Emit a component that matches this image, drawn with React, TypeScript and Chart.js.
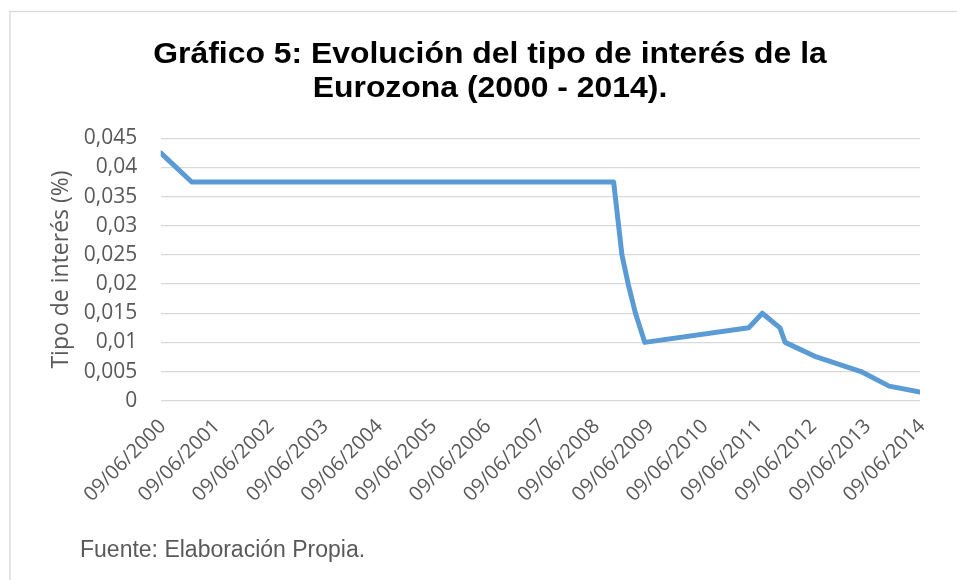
import React, { useEffect, useRef } from "react";
import { Chart, registerables } from "chart.js";

Chart.register(...registerables);

// Fechas de cambio del tipo (ISO) y valores del tipo de interés
const changeDates = [
  "2000-06-09",
  "2001-01-04",
  "2008-10-15",
  "2008-12-10",
  "2009-01-21",
  "2009-03-11",
  "2009-05-13",
  "2011-04-13",
  "2011-07-13",
  "2011-11-09",
  "2011-12-14",
  "2012-07-11",
  "2013-05-08",
  "2013-11-13",
  "2014-06-09",
];
const rates = [
  0.0425, 0.0375, 0.0375, 0.025, 0.02, 0.015, 0.01, 0.0125, 0.015, 0.0125,
  0.01, 0.0075, 0.005, 0.0025, 0.0015,
];

// Etiquetas del eje X
const tickLabels = [
  "09/06/2000",
  "09/06/2001",
  "09/06/2002",
  "09/06/2003",
  "09/06/2004",
  "09/06/2005",
  "09/06/2006",
  "09/06/2007",
  "09/06/2008",
  "09/06/2009",
  "09/06/2010",
  "09/06/2011",
  "09/06/2012",
  "09/06/2013",
  "09/06/2014",
];

const titleLines = [
  "Gráfico 5: Evolución del tipo de interés de la",
  "Eurozona (2000 - 2014).",
];
const yAxisTitle = "Tipo de interés (%)";
const footerText = "Fuente: Elaboración Propia.";

const parseDMY = (s: string) => {
  const [d, m, y] = s.split("/").map(Number);
  return Date.UTC(y, m - 1, d);
};
const parseISO = (s: string) => {
  const [y, m, d] = s.split("-").map(Number);
  return Date.UTC(y, m - 1, d);
};

const tickValues = tickLabels.map(parseDMY);

export default function App() {
  const ref = useRef<HTMLCanvasElement | null>(null);

  useEffect(() => {
    document.body.style.margin = "0";
    const canvas = ref.current;
    if (!canvas) return;

    const framePlugin = {
      id: "frame",
      beforeDraw(chart: any) {
        const ctx = chart.ctx;
        ctx.save();
        ctx.fillStyle = "#ffffff";
        ctx.fillRect(0, 0, chart.width, chart.height);
        ctx.strokeStyle = "#d9d9d9";
        ctx.lineWidth = 1.3;
        ctx.strokeRect(10, 11.5, chart.width + 20, chart.height + 20);
        ctx.restore();
      },
      afterDraw(chart: any) {
        const ctx = chart.ctx;
        ctx.save();
        // Title (slightly widened, as in the reference)
        ctx.fillStyle = "#000000";
        ctx.font = "bold 29px 'Liberation Sans', Arial, sans-serif";
        ctx.textAlign = "center";
        ctx.textBaseline = "alphabetic";
        const baselines = [63.3, 96.7];
        titleLines.forEach((line, i) => {
          ctx.save();
          ctx.translate(490, baselines[i]);
          ctx.scale(1.1, 1);
          ctx.fillText(line, 0, 0);
          ctx.restore();
        });
        // Footer
        ctx.fillStyle = "#595959";
        ctx.font = "23px 'Liberation Sans', Arial, sans-serif";
        ctx.textAlign = "left";
        ctx.fillText(footerText, 80, 557);
        ctx.restore();
      },
    };

    const chart = new Chart(canvas, {
      type: "line",
      data: {
        datasets: [
          {
            data: changeDates.map((d, i) => ({ x: parseISO(d), y: rates[i] })),
            borderColor: "#5B9BD5",
            borderWidth: 5,
            pointRadius: 0,
            tension: 0,
            borderJoinStyle: "round",
            borderCapStyle: "round",
            fill: false,
          },
        ],
      },
      plugins: [framePlugin],
      options: {
        responsive: false,
        animation: false,
        layout: { padding: { left: 0, right: 37, top: 138.3, bottom: 0 } },
        plugins: {
          legend: { display: false },
          tooltip: { enabled: false },
          title: { display: false },
        },
        scales: {
          x: {
            type: "linear",
            min: tickValues[0],
            max: tickValues[tickValues.length - 1],
            afterBuildTicks: (scale: any) => {
              scale.ticks = tickValues.map((v) => ({ value: v }));
            },
            afterFit: (scale: any) => {
              scale.height = 179.3;
              scale.paddingLeft = 0;
              scale.paddingRight = 0;
            },
            grid: { display: false, drawTicks: false },
            border: { display: false },
            ticks: {
              autoSkip: false,
              minRotation: 45,
              maxRotation: 45,
              padding: 14,
              labelOffset: 2,
              color: "#595959",
              font: { family: "'Open Sans', sans-serif", size: 20 },
              callback: (_v: any, i: number) => tickLabels[i],
            },
          },
          y: {
            min: 0,
            max: 0.045,
            afterFit: (scale: any) => {
              scale.width = 160.7;
            },
            grid: { color: "#d9d9d9", lineWidth: 1.3, drawTicks: false },
            border: { display: false },
            ticks: {
              stepSize: 0.005,
              padding: 23.5,
              color: "#595959",
              font: { family: "'Open Sans', sans-serif", size: 21 },
              callback: (v: any) =>
                String(Number(Number(v).toFixed(3))).replace(".", ","),
            },
            title: {
              display: true,
              text: yAxisTitle,
              color: "#595959",
              font: { family: "'Open Sans', sans-serif", size: 23 },
              padding: { top: 48, bottom: 0 },
            },
          },
        },
      },
    } as any);

    return () => chart.destroy();
  }, []);

  return (
    <div style={{ width: 957, height: 580 }}>
      <canvas ref={ref} width={957} height={580} style={{ display: "block" }} />
    </div>
  );
}
